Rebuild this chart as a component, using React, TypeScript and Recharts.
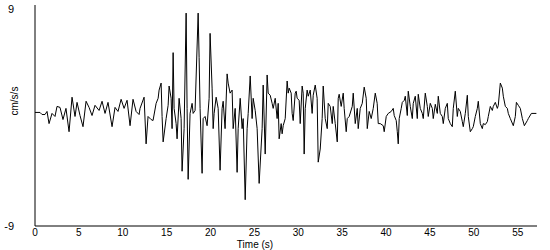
import { LineChart, Line, XAxis, YAxis } from 'recharts';

// picked off the trace, seconds
const times = [
  0, 0.57, 0.8, 1.14, 1.37, 1.6, 1.94, 2.28, 2.51, 2.85, 3.19, 3.53, 3.88, 4.22, 4.56, 4.79, 5.13, 5.47, 5.82, 6.16,
  6.5, 6.84, 7.3, 7.64, 7.98, 8.32, 8.78, 9.12, 9.46, 9.81, 10.15, 10.49, 10.83, 11.17, 11.52, 11.86, 11.97, 12.43, 12.66, 12.88,
  13.23, 13.45, 13.8, 14.03, 14.14, 14.37, 14.48, 14.6, 14.94, 15.17, 15.28, 15.51, 15.62, 15.74, 15.85, 16.08, 16.19, 16.42, 16.65, 16.76,
  16.99, 17.22, 17.33, 17.45, 17.67, 17.9, 18.02, 18.24, 18.59, 18.7, 18.81, 19.04, 19.16, 19.38, 19.61, 19.84, 19.95, 20.18, 20.3, 20.41,
  20.64, 20.87, 21.09, 21.32, 21.44, 21.66, 21.89, 22.01, 22.23, 22.46, 22.58, 22.81, 23.03, 23.15, 23.38, 23.6, 23.72, 23.95, 24.17, 24.29,
  24.52, 24.74, 24.86, 25.09, 25.31, 25.54, 25.88, 26.0, 26.23, 26.45, 26.57, 26.8, 27.02, 27.14, 27.37, 27.59, 27.71, 27.82, 28.05, 28.16,
  28.28, 28.51, 28.73, 28.85, 28.96, 29.19, 29.3, 29.42, 29.65, 29.76, 29.87, 30.1, 30.22, 30.44, 30.56, 30.67, 30.79, 31.01, 31.13, 31.36,
  31.58, 31.7, 31.93, 32.15, 32.27, 32.5, 32.72, 32.84, 33.07, 33.3, 33.41, 33.64, 33.87, 33.98, 34.21, 34.44, 34.55, 34.66, 34.89, 35.12,
  35.23, 35.46, 35.58, 35.8, 36.15, 36.26, 36.49, 36.72, 36.83, 37.06, 37.29, 37.51, 37.74, 37.86, 38.08, 38.31, 38.54, 38.77, 38.99, 39.11,
  39.34, 39.68, 39.79, 40.02, 40.25, 40.59, 40.82, 40.93, 41.16, 41.28, 41.39, 41.5, 41.73, 41.85, 42.08, 42.19, 42.42, 42.53, 42.76, 42.99,
  43.1, 43.33, 43.56, 43.67, 43.9, 44.13, 44.24, 44.47, 44.7, 44.81, 45.04, 45.27, 45.38, 45.61, 45.84, 45.95, 46.18, 46.41, 46.52, 46.75,
  46.98, 47.09, 47.32, 47.55, 47.66, 47.89, 48.12, 48.23, 48.46, 48.69, 48.8, 49.03, 49.26, 49.37, 49.6, 49.83, 49.94, 50.17, 50.4, 50.51,
  50.74, 50.97, 51.08, 51.31, 51.54, 51.65, 51.88, 52.11, 52.22, 52.45, 52.68, 52.79, 53.02, 53.25, 53.36, 53.59, 53.82, 53.93, 54.16, 54.5,
  54.73, 54.85, 55.07, 55.3, 55.53, 55.76, 56.1, 56.21, 56.56, 57.13,
];

// cm/s/s
const accel = [
  0.25, 0.25, 0.08, 0.08, 0.33, -0.66, 0.17, -0.08, 0.74, 0.66, -0.33, 0.58, -1.32, 1.49, -0.08, 1.07, 0, -0.91, 1.16, 0.66,
  0, 0.83, 0.41, 1.16, 0.17, 1.07, -0.91, 0.66, 0.33, 1.32, 0.58, 1.24, -0.83, 1.32, 0.33, 0.08, 0.58, 1.49, -2.31, -0.08,
  -0.33, -0.41, 0.99, 1.4, 2.07, 2.64, -0.08, -2.15, -0.25, 0.83, 2.4, 1.4, -1.07, 5.12, 0.58, -0.66, -1.9, 1.4, -0.25, -4.54,
  -1.07, 8.34, 0.58, -5.2, 0.17, 0.99, 0.17, 0.41, 8.34, 4.71, 0.58, -4.71, -0.25, -0.08, -0.83, 1.4, 6.69, 2.23, -1.07, 0.17,
  1.49, 0.58, -4.46, 0.58, 1.16, -1.07, 3.39, 2.64, 1.82, 2.07, -1.07, 0.58, -4.63, -1.07, 1.4, -1.07, -0.25, -6.86, -1.07, 0.17,
  3.22, -0.25, 1.4, 0.41, -1.07, -5.53, -1.07, 2.48, -3.14, 3.3, 1.82, 1.65, 0.99, 0.58, 1.4, -0.25, 0.99, -1.9, -0.66, -1.49,
  -0.83, -0.25, 2.81, 1.82, 2.23, 1.82, 0.17, -0.41, 1.82, 1.98, 1.4, 1.24, -0.66, 2.4, 1.82, -3.14, 0.58, 2.07, 1.57, 2.07,
  0.17, 1.65, 2.48, 1.4, -3.8, -2.73, -0.25, 2.4, -0.25, -1.07, 0.99, 0.74, -0.66, 0.74, -0.66, -2.15, 1.4, 1.73, 0.74, 1.82,
  0.58, -1.32, -0.25, -0.08, 0.74, 1.82, -0.66, 0.58, -1.07, 0.58, 0.99, 2.31, 1.4, -1.07, 0.33, -0.25, 0.58, 1.82, 0.99, -0.66,
  -0.66, -0.83, -1.32, -0.08, 0.17, 0.33, 0.58, 0, -0.41, -1.32, -2.31, -0.25, 0.58, 1.07, 1.24, 1.57, 0, 1.98, 0.74, -0.25,
  0.99, 1.57, -0.25, 1.73, 0.58, 0.17, -0.25, 1.82, 0.74, -0.08, 0.99, 0.58, -0.25, 0.91, 0.17, 1.57, 0.17, -0.08, -0.66, 0.58,
  0.99, -0.25, -0.66, -0.91, 0.58, 1.98, -0.08, 0.58, 0.33, -0.5, -0.91, 0.17, 1.65, -0.08, -1.32, -1.07, -0.91, -0.08, 0.58, 1.16,
  -0.66, -1.07, -0.66, -0.74, -0.5, -0.08, 0.74, 0.41, 0.74, 1.07, 0.58, 0.83, 2.64, 2.23, 1.57, 0.74, 0.58, 0.17, -0.25, -0.83,
  -0.08, 1.07, 0.83, 0.58, -0.25, -0.83, -0.41, -0.25, 0.17, 0.17,
];

const xTicks = [0, 5, 10, 15, 20, 25, 30, 35, 40, 45, 50, 55];
const yTicks = [-9, 9];

const data = times.map((t, i) => ({ t, a: accel[i] }));

const font = '"Liberation Sans", Arial, sans-serif';

function YTick(props: any) {
  const { y, payload } = props;
  return (
    <text x={14} y={y} dy={4} textAnchor="end" fontSize={11} fontFamily={font} fill="#000">
      {payload.value}
    </text>
  );
}

export default function App() {
  return (
    <div style={{ position: 'fixed', left: 0, top: 0, background: '#fff' }}>
      <LineChart width={550} height={250} data={data} margin={{ top: 5, right: 13, left: 0, bottom: 0 }}>
        <XAxis
          dataKey="t"
          type="number"
          domain={[0, 57.2]}
          ticks={xTicks}
          tickLine={false}
          tickSize={3}
          tickMargin={0}
          height={24}
          stroke="#000"
          tick={{ fill: '#000', fontSize: 10, fontFamily: font }}
          allowDataOverflow
          label={{ value: 'Time (s)', position: 'insideBottom', offset: 2, dx: -31, fontSize: 10, fontFamily: font, fill: '#000' }}
        />
        <YAxis
          type="number"
          domain={[-9, 9]}
          ticks={yTicks}
          tickLine={false}
          width={35}
          stroke="#000"
          tick={<YTick />}
          label={{ value: 'cm/s/s', angle: -90, position: 'insideLeft', offset: 14, fontSize: 10, fontFamily: font, fill: '#000' }}
        />
        <Line type="linear" dataKey="a" stroke="#000" strokeWidth={1} dot={false} isAnimationActive={false} />
      </LineChart>
    </div>
  );
}
